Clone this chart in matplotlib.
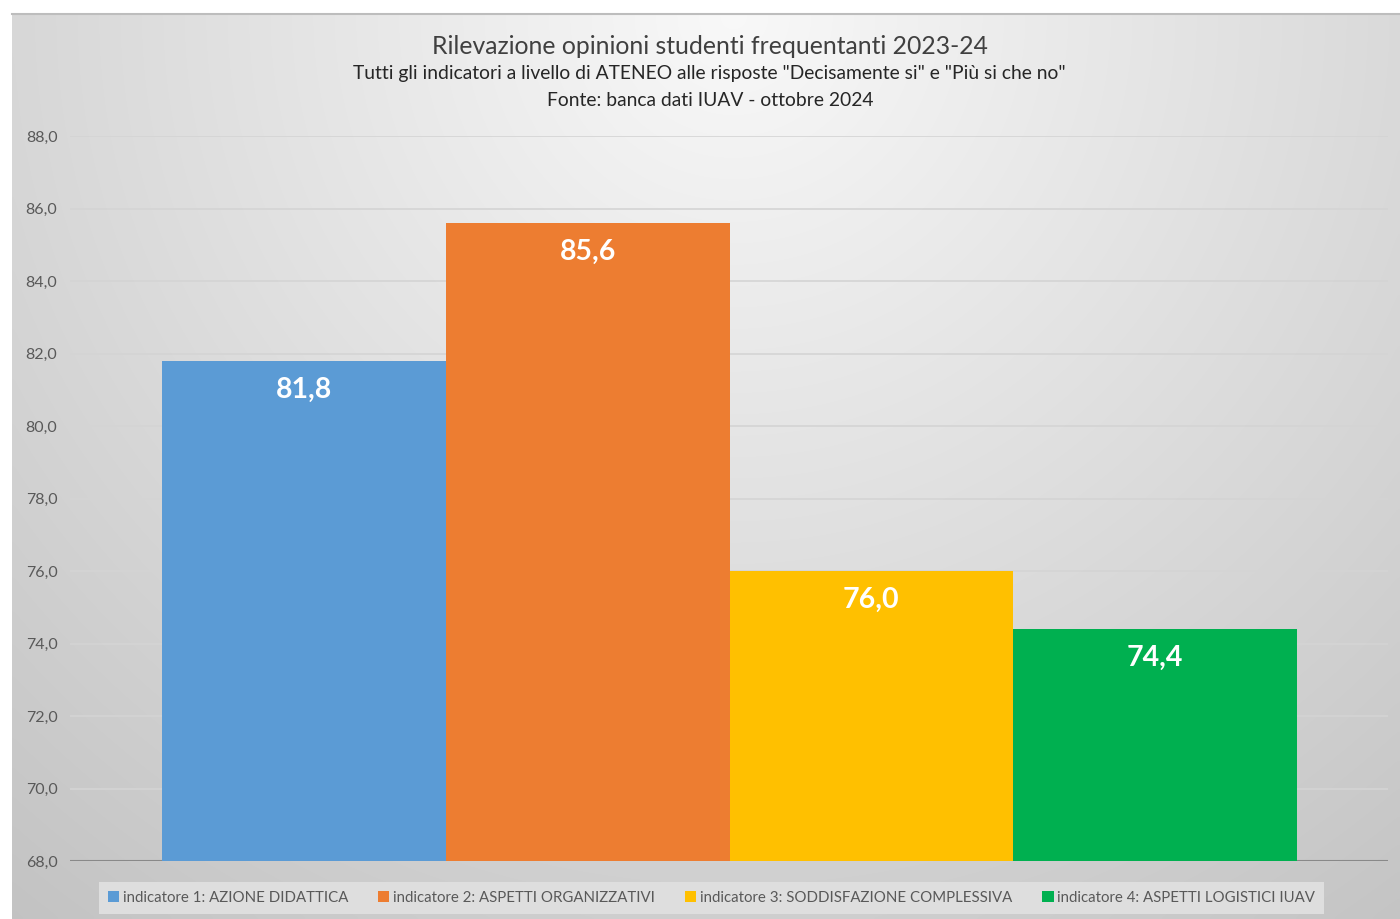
import numpy as np
import matplotlib
matplotlib.use("Agg")
import matplotlib.pyplot as plt
from matplotlib.patches import Patch

plt.rcParams['font.family'] = ['Lato', 'DejaVu Sans']

series = ["indicatore 1: AZIONE DIDATTICA", "indicatore 2: ASPETTI ORGANIZZATIVI",
          "indicatore 3: SODDISFAZIONE COMPLESSIVA", "indicatore 4: ASPETTI LOGISTICI IUAV"]
values = [81.8, 85.6, 76.0, 74.4]
labels = ["81,8", "85,6", "76,0", "74,4"]
colors = ["#5B9BD5", "#ED7D31", "#FFC000", "#00B050"]
yticks = [68, 70, 72, 74, 76, 78, 80, 82, 84, 86, 88]
ytick_labels = ["68,0", "70,0", "72,0", "74,0", "76,0", "78,0", "80,0", "82,0", "84,0", "86,0", "88,0"]

W, H = 1400, 919
fig = plt.figure(figsize=(W/100, H/100), dpi=100)
fig.patch.set_facecolor("white")

# background gradient panel
bg = fig.add_axes([12/W, 0, (W-12)/W, (H-14)/H], zorder=0)
bg.set_axis_off()
ny, nx = 200, 300
yy, xx = np.mgrid[0:1:ny*1j, 0:1:nx*1j]
r = np.sqrt(((xx-0.52)/0.75)**2 + ((yy-0.0)/1.15)**2)
val = 0.975 - 0.19*np.clip(r, 0, 1.2)
img = np.dstack([val, val, val])
bg.imshow(img, aspect='auto', extent=[0, 1, 1, 0], interpolation='bicubic')
bg.set_xlim(0, 1); bg.set_ylim(1, 0)
fig.add_artist(plt.Line2D([12/W, 1], [(H-14)/H, (H-14)/H], color="#bdbdbd", lw=1.5, zorder=1))

ax = fig.add_axes([70/W, 58/H, (1388-70)/W, (783-58)/H], zorder=2)
ax.patch.set_alpha(0)
x = np.arange(len(values))
ax.bar(x, [v - 68 for v in values], bottom=68, width=1.0, color=colors, zorder=3)
for xi, v, lab in zip(x, values, labels):
    ax.text(xi, v - 0.8, lab, ha='center', va='center', color='white',
            fontsize=20.5, fontweight='bold', zorder=4)

ax.set_ylim(68, 88)
ax.set_xlim(-0.5 - 92/283.75, 3.5 + 91/283.75)
ax.set_yticks(yticks)
ax.set_yticklabels(ytick_labels, fontsize=11.5, color="#595959")
ax.tick_params(axis='y', length=0, pad=9)
ax.set_xticks([])
for s in ax.spines.values():
    s.set_visible(False)
for t in yticks[1:]:
    ax.axhline(t, color="#d4d4d4", lw=1.2, zorder=1)
ax.axhline(68, color="#898989", lw=1.5, zorder=2)

fig.text(0.507, 1 - 46/H, "Rilevazione opinioni studenti frequentanti 2023-24",
         ha='center', va='center', fontsize=17.8, color="#404040")
fig.text(0.507, 1 - 74/H, "Tutti gli indicatori a livello di ATENEO alle risposte \"Decisamente si\" e \"Più si che no\"",
         ha='center', va='center', fontsize=13.9, color="#262626")
fig.text(0.507, 1 - 100/H, "Fonte: banca dati IUAV - ottobre 2024",
         ha='center', va='center', fontsize=13.9, color="#262626")

handles = [Patch(facecolor=c, edgecolor='none') for c in colors]
leg = fig.legend(handles, series, loc='center', bbox_to_anchor=(711.5/W, 1 - 898/H),
                 ncol=4, frameon=True, fontsize=10.8, handlelength=0.75, handleheight=0.75,
                 handletextpad=0.25, columnspacing=2.0, borderpad=0.6, fancybox=False)
leg.get_frame().set_facecolor("#dedede")
leg.get_frame().set_edgecolor("none")
leg.get_frame().set_alpha(1)
for t in leg.get_texts():
    t.set_color("#595959")

fig.savefig("out.png", dpi=100, facecolor=fig.get_facecolor())
